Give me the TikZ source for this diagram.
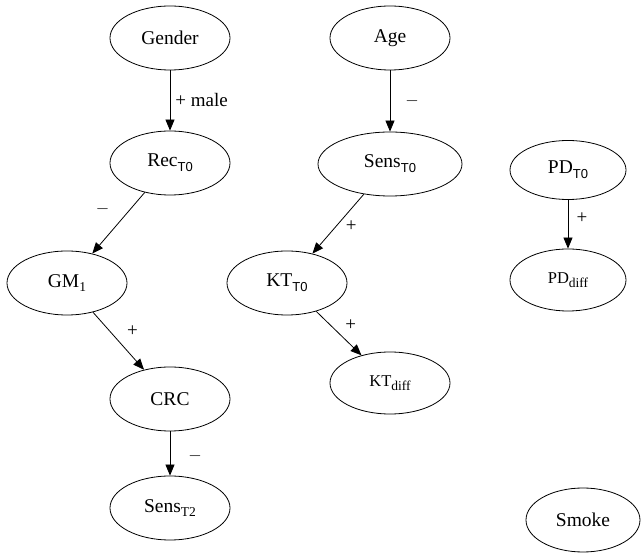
\documentclass[tikz,border=0pt]{standalone}
\usepackage{fontspec}
\setmainfont{Liberation Serif}
\newfontfamily\subsans{Liberation Sans}
\usetikzlibrary{shapes.geometric,arrows.meta}
\newcommand\sbs[1]{\raisebox{-0.25em}{\fontsize{13.5}{14}\selectfont #1}}
\newcommand\sbsans[1]{\raisebox{-0.25em}{\fontsize{13}{14}\selectfont\subsans #1}}
\tikzset{
  var/.style={draw, ellipse, line width=0.8pt, minimum width=120pt, minimum height=64pt, inner sep=0pt, font=\fontsize{19.5}{22}\selectfont},
  smallvar/.style={var, font=\fontsize{16.5}{19}\selectfont},
  link/.style={draw, line width=0.8pt, -{Triangle[length=11pt,width=9pt]}},
  lbl/.style={font=\fontsize{19}{22}\selectfont, inner sep=0pt}
}
\begin{document}
\begin{tikzpicture}[x=1pt,y=-1pt]
\useasboundingbox (0,0) rectangle (641,553);
\node[var] (gender) at (170,38) {Gender};
\node[var] (rec) at (170,163) {Rec\sbsans{T0}};
\node[var] (gm) at (67,283) {GM\sbs{1}};
\node[var] (crc) at (170,399) {CRC};
\node[var] (senst2) at (170,508) {Sens\sbs{T2}};
\node[var] (age) at (390,38) {Age};
\node[var, minimum width=144pt] (senst0) at (390,164) {Sens\sbsans{T0}};
\node[var] (ktt0) at (287,283) {KT\sbsans{T0}};
\node[smallvar, minimum height=62pt] (ktdiff) at (390,383) {KT\sbs{diff}};
\node[var, minimum width=116pt, minimum height=59pt] (pdt0) at (568,170) {PD\sbsans{T0}};
\node[smallvar, minimum width=116pt, minimum height=62pt] (pddiff) at (568,280) {PD\sbs{diff}};
\node[var, minimum width=114pt] (smoke) at (583,520) {Smoke};

\draw[link] (gender) -- node[lbl, midway, anchor=west, xshift=5pt] {+ male} (rec);
\draw[link] (rec) -- node[lbl, midway, xshift=-16pt, yshift=14pt] {$-$} (gm);
\draw[link] (gm) -- node[lbl, midway, xshift=14pt, yshift=10pt] {+} (crc);
\draw[link] (crc) -- node[lbl, midway, xshift=25pt, yshift=-3pt] {$-$} (senst2);
\draw[link] (age) -- node[lbl, midway, xshift=22pt] {$-$} (senst0);
\draw[link] (senst0) -- node[lbl, midway, xshift=13pt, yshift=-2pt] {+} (ktt0);
\draw[link] (ktt0) -- node[lbl, midway, xshift=12pt, yshift=8pt] {+} (ktdiff);
\draw[link] (pdt0) -- node[lbl, midway, xshift=14pt, yshift=6pt] {+} (pddiff);
\end{tikzpicture}
\end{document}
